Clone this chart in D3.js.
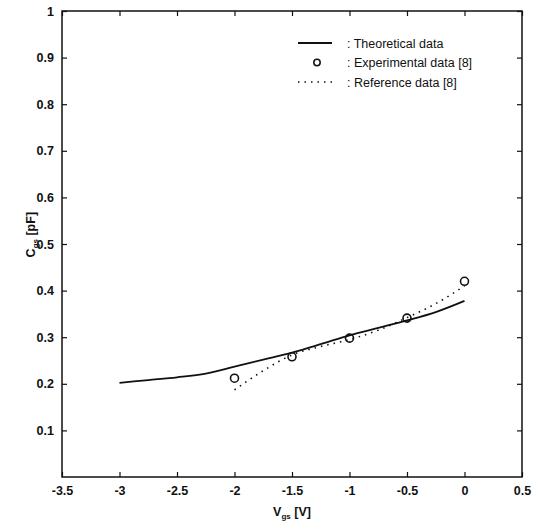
<!DOCTYPE html>
<html>
<head>
<meta charset="utf-8">
<script src="https://cdn.jsdelivr.net/npm/d3@7"></script>
<style>
  body { margin: 0; background: #fff; }
  svg text { font-family: "Liberation Sans", Arial, sans-serif; fill: #111; }
</style>
</head>
<body>
<svg id="chart"></svg>
<script>
var svgWidth = 535,
  svgHeight = 526;

var margin = { top: 11, right: 13, bottom: 49, left: 62 },
  chartWidth = svgWidth - margin.left - margin.right,
  chartHeight = svgHeight - margin.top - margin.bottom;

// theoretical curve
var theoryVgs = [-3, -2.75, -2.5, -2.25, -2, -1.75, -1.5, -1.25, -1, -0.75, -0.5, -0.25, 0];
var theoryCgs = [0.202, 0.208, 0.214, 0.222, 0.237, 0.252, 0.267, 0.285, 0.304, 0.32, 0.336, 0.354, 0.378];

// experimental points [8]
var expVgs = [-2, -1.5, -1, -0.5, 0];
var expCgs = [0.212, 0.258, 0.298, 0.341, 0.42];

// reference curve [8]
var refVgs = [-2, -1.75, -1.5, -1.25, -1, -0.75, -0.5, -0.25, 0];
var refCgs = [0.187, 0.228, 0.262, 0.28, 0.295, 0.315, 0.342, 0.372, 0.41];

var xTicks = [-3.5, -3, -2.5, -2, -1.5, -1, -0.5, 0, 0.5];
var yTicks = [0.1, 0.2, 0.3, 0.4, 0.5, 0.6, 0.7, 0.8, 0.9, 1];

var legendLabels = [": Theoretical data", ": Experimental data [8]", ": Reference data [8]"];

function zip(xs, ys) {
  return xs.map(function (x, i) {
    return { x: x, y: ys[i] };
  });
}

// plain hyphen minus like the original plot
function plain(d) {
  return String(d);
}

var svg = d3.select("#chart").attr("width", svgWidth).attr("height", svgHeight);

var xScale = d3.scaleLinear().domain([-3.5, 0.5]).range([0, chartWidth]);
var yScale = d3.scaleLinear().domain([0, 1]).range([chartHeight, 0]);

var g = svg.append("g")
  .attr("transform", "translate(" + margin.left + "," + margin.top + ")");

// frame
g.append("rect")
  .attr("width", chartWidth)
  .attr("height", chartHeight)
  .attr("fill", "none")
  .attr("stroke", "#111")
  .attr("stroke-width", 1.5);

// bottom axis, ticks pointing in
g.append("g")
  .attr("transform", "translate(0," + chartHeight + ")")
  .call(d3.axisBottom(xScale).tickValues(xTicks).tickSize(-5).tickPadding(9).tickFormat(plain))
  .call(function (a) { a.select(".domain").remove(); })
  .selectAll(".tick text")
  .style("font-size", "12.5px")
  .style("font-weight", "bold");

// top mirrored ticks
g.append("g")
  .call(d3.axisTop(xScale).tickValues(xTicks).tickSize(-5).tickFormat(""))
  .call(function (a) { a.select(".domain").remove(); });

// left axis
g.append("g")
  .call(d3.axisLeft(yScale).tickValues(yTicks).tickSize(-5).tickPadding(8).tickFormat(plain))
  .call(function (a) { a.select(".domain").remove(); })
  .selectAll(".tick text")
  .style("font-size", "12.5px")
  .style("font-weight", "bold");

// right mirrored ticks
g.append("g")
  .attr("transform", "translate(" + chartWidth + ",0)")
  .call(d3.axisRight(yScale).tickValues(yTicks).tickSize(-5).tickFormat(""))
  .call(function (a) { a.select(".domain").remove(); });

g.selectAll(".tick line").attr("stroke", "#111").attr("stroke-width", 1.2);

// axis titles
var xTitle = svg.append("text")
  .attr("x", margin.left + xScale(-1.5))
  .attr("y", 516)
  .attr("text-anchor", "middle")
  .style("font-size", "12.5px")
  .style("font-weight", "bold");
xTitle.append("tspan").text("V");
xTitle.append("tspan").attr("dy", 3).style("font-size", "8px").text("gs");
xTitle.append("tspan").attr("dy", -3).text(" [V]");

var yTitle = svg.append("text")
  .attr("transform", "translate(35," + (margin.top + yScale(0.52)) + ") rotate(-90)")
  .attr("text-anchor", "middle")
  .style("font-size", "12.5px")
  .style("font-weight", "bold");
yTitle.append("tspan").text("C");
yTitle.append("tspan").attr("dy", 3).style("font-size", "8px").text("gs");
yTitle.append("tspan").attr("dy", -3).text(" [pF]");

var line = d3.line()
  .x(function (d) { return xScale(d.x); })
  .y(function (d) { return yScale(d.y); })
  .curve(d3.curveMonotoneX);

g.append("path")
  .datum(zip(theoryVgs, theoryCgs))
  .attr("d", line)
  .attr("fill", "none")
  .attr("stroke", "#111")
  .attr("stroke-width", 1.8);

g.append("path")
  .datum(zip(refVgs, refCgs))
  .attr("d", line)
  .attr("fill", "none")
  .attr("stroke", "#111")
  .attr("stroke-width", 1.6)
  .attr("stroke-dasharray", "1.5 5");

g.selectAll(".exp")
  .data(zip(expVgs, expCgs))
  .enter()
  .append("circle")
  .attr("class", "exp")
  .attr("cx", function (d) { return xScale(d.x); })
  .attr("cy", function (d) { return yScale(d.y); })
  .attr("r", 4)
  .attr("fill", "none")
  .attr("stroke", "#111")
  .attr("stroke-width", 1.6);

// legend
var legend = svg.append("g").attr("transform", "translate(298,43)");
var rowH = 19.5;

legend.append("line")
  .attr("x1", 0).attr("x2", 34).attr("y1", 0).attr("y2", 0)
  .attr("stroke", "#111").attr("stroke-width", 1.8);
legend.append("circle")
  .attr("cx", 19).attr("cy", rowH).attr("r", 3.2)
  .attr("fill", "none").attr("stroke", "#111").attr("stroke-width", 1.5);
legend.append("line")
  .attr("x1", 0).attr("x2", 34).attr("y1", rowH * 2).attr("y2", rowH * 2)
  .attr("stroke", "#111").attr("stroke-width", 1.6).attr("stroke-dasharray", "1.5 5");

legend.selectAll(".lbl")
  .data(legendLabels)
  .enter()
  .append("text")
  .attr("class", "lbl")
  .attr("x", 49)
  .attr("y", function (d, i) { return i * rowH + 4.5; })
  .style("font-size", "12.5px")
  .text(function (d) { return d; });
</script>
</body>
</html>
